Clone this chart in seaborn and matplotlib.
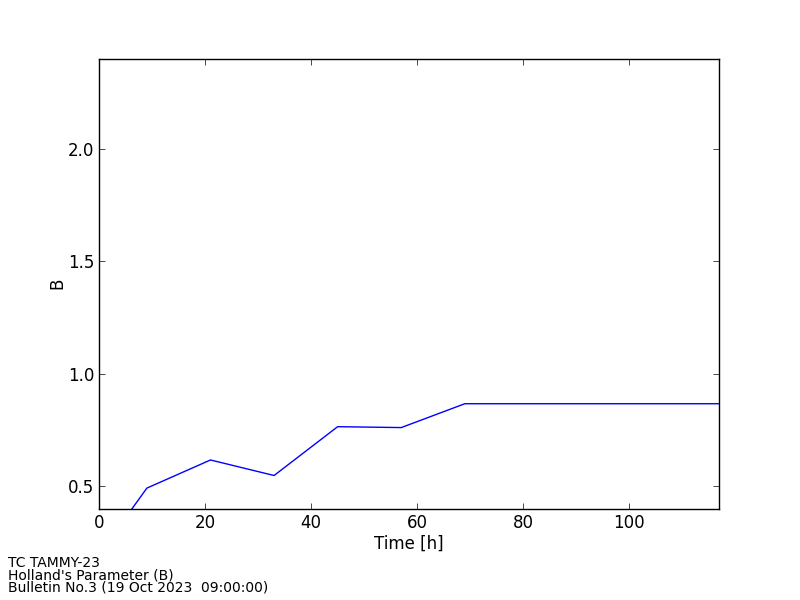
import matplotlib
matplotlib.use("Agg")
import matplotlib.pyplot as plt
import seaborn as sns
import pandas as pd

hours = [-3, 9, 21, 33, 45, 57, 69, 81, 93, 105, 117]
b_values = [0.10, 0.492, 0.617, 0.548, 0.765, 0.761, 0.867, 0.867, 0.867, 0.867, 0.867]
footer_lines = ["TC TAMMY-23", "Holland's Parameter (B)", "Bulletin No.3 (19 Oct 2023  09:00:00)"]

sns.set_theme(style="ticks")
plt.rcParams.update({
    "font.family": ["DejaVu Sans"],
    "text.color": "black", "axes.labelcolor": "black",
    "xtick.direction": "in", "ytick.direction": "in",
    "xtick.top": True, "ytick.right": True,
    "xtick.major.size": 4, "ytick.major.size": 4,
    "xtick.major.width": 0.5, "ytick.major.width": 0.5,
    "axes.linewidth": 1.0, "axes.edgecolor": "black",
    "xtick.color": "black", "ytick.color": "black",
    "xtick.labelsize": 12, "ytick.labelsize": 12,
    "axes.labelsize": 12,
})

df = pd.DataFrame({"Time": hours, "B": b_values})

fig = plt.figure(figsize=(8, 6), dpi=100)
ax = fig.add_axes([0.124, 0.152, 0.775, 0.75])
sns.lineplot(data=df, x="Time", y="B", ax=ax, color="#0000ff", linewidth=1.0)
ax.set_xlim(0, 117)
ax.set_ylim(0.4, 2.4)
ax.set_xticks([0, 20, 40, 60, 80, 100])
ax.set_yticks([0.5, 1.0, 1.5, 2.0])
ax.set_xlabel("Time [h]", labelpad=2)
ax.set_ylabel("B", labelpad=1)
for s in ax.spines.values():
    s.set_visible(True)

fig.text(0.01, 0.0135, "\n".join(footer_lines), fontsize=10, ha="left", va="baseline",
         linespacing=0.84, color="black")

fig.savefig("out.png", dpi=100, facecolor="white")
